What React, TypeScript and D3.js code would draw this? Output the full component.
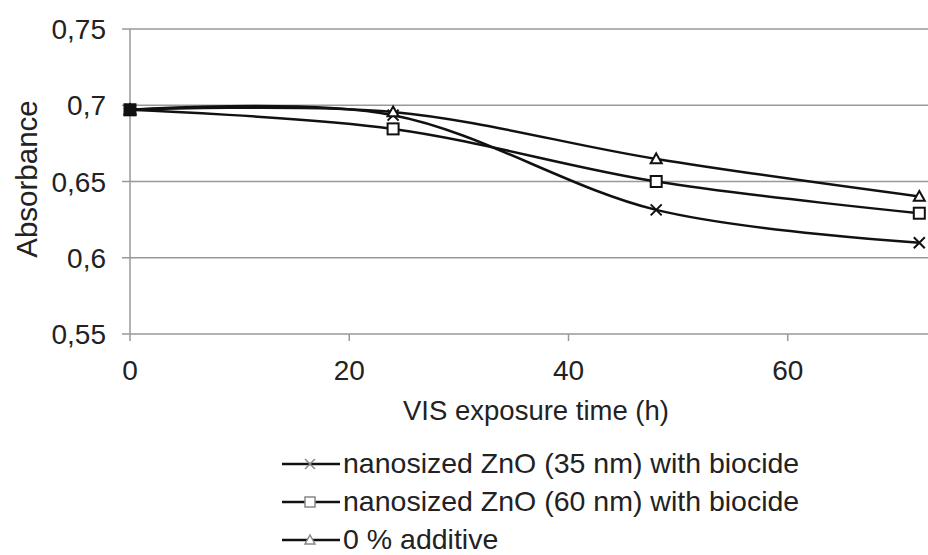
import { useRef, useEffect } from "react";
import * as d3 from "d3";

const hours = [0, 24, 48, 72];
const zno35 = [0.697, 0.6935, 0.6314, 0.6098];
const zno60 = [0.697, 0.6845, 0.65, 0.6292];
const noAdditive = [0.697, 0.6956, 0.6648, 0.6402];
const seriesNames = [
  "nanosized ZnO (35 nm) with biocide",
  "nanosized ZnO (60 nm) with biocide",
  "0 % additive",
];
const yTicks = [0.55, 0.6, 0.65, 0.7, 0.75];
const xTicks = [0, 20, 40, 60];

export default function App() {
  const ref = useRef<SVGSVGElement>(null);

  useEffect(() => {
    const svg = d3.select(ref.current);
    svg.selectAll("*").remove();

    const width = 928;
    const height = 555;
    const font = "'Liberation Sans', Arial, sans-serif";

    svg.attr("width", width).attr("height", height)
      .style("position", "absolute").style("left", 0).style("top", 0)
      .style("background", "#fff");

    const x = d3.scaleLinear().domain([0, 80]).range([130, 1007]);
    const y = d3.scaleLinear().domain([0.55, 0.75]).range([334, 29]);
    const fmt = (v: number) => String(+v.toFixed(2)).replace(".", ",");

    // gridlines
    svg.append("g")
      .selectAll("line")
      .data(yTicks)
      .enter()
      .append("line")
      .attr("x1", 122)
      .attr("x2", width)
      .attr("y1", d => y(d))
      .attr("y2", d => y(d))
      .attr("stroke", "#999")
      .attr("stroke-width", 1.5);

    // left axis line
    svg.append("line")
      .attr("x1", x(0)).attr("x2", x(0))
      .attr("y1", y(0.75)).attr("y2", y(0.55))
      .attr("stroke", "#999").attr("stroke-width", 1.5);

    svg.append("g")
      .selectAll("text")
      .data(yTicks)
      .enter()
      .append("text")
      .attr("x", 106)
      .attr("y", d => y(d) + 10)
      .attr("text-anchor", "end")
      .attr("font-family", font)
      .attr("font-size", 28)
      .attr("fill", "#222")
      .text(d => fmt(d));

    // x ticks
    const xg = svg.append("g");
    xg.selectAll("line")
      .data(xTicks)
      .enter()
      .append("line")
      .attr("x1", d => x(d)).attr("x2", d => x(d))
      .attr("y1", y(0.55)).attr("y2", y(0.55) + 7)
      .attr("stroke", "#999").attr("stroke-width", 1.5);
    xg.selectAll("text")
      .data(xTicks)
      .enter()
      .append("text")
      .attr("x", d => x(d))
      .attr("y", 380)
      .attr("text-anchor", "middle")
      .attr("font-family", font)
      .attr("font-size", 28)
      .attr("fill", "#222")
      .text(d => d);

    svg.append("text")
      .attr("x", 536)
      .attr("y", 420)
      .attr("text-anchor", "middle")
      .attr("font-family", font)
      .attr("font-size", 27.5)
      .attr("fill", "#222")
      .text("VIS exposure time (h)");

    svg.append("text")
      .attr("transform", "rotate(-90)")
      .attr("x", -179)
      .attr("y", 37)
      .attr("text-anchor", "middle")
      .attr("font-family", font)
      .attr("font-size", 29.5)
      .attr("fill", "#222")
      .text("Absorbance");

    const series = [zno35, zno60, noAdditive];
    const line = d3.line<number>()
      .x((_, i) => x(hours[i]))
      .y(d => y(d))
      .curve(d3.curveCatmullRom.alpha(0));

    series.forEach(values => {
      svg.append("path")
        .attr("d", line(values))
        .attr("fill", "none")
        .attr("stroke", "#111")
        .attr("stroke-width", 2.5);
    });

    function marker(g: any, kind: number, cx: number, cy: number, s: number, color: string, w: number) {
      if (kind === 0) {
        g.append("path")
          .attr("d", `M${cx - s},${cy - s}L${cx + s},${cy + s}M${cx - s},${cy + s}L${cx + s},${cy - s}`)
          .attr("stroke", color).attr("stroke-width", w).attr("fill", "none");
      } else if (kind === 1) {
        g.append("rect")
          .attr("x", cx - s).attr("y", cy - s)
          .attr("width", 2 * s).attr("height", 2 * s)
          .attr("fill", "#fff").attr("stroke", color).attr("stroke-width", w);
      } else {
        g.append("path")
          .attr("d", `M${cx},${cy - s}L${cx + s},${cy + s * 0.8}L${cx - s},${cy + s * 0.8}Z`)
          .attr("fill", "#fff").attr("stroke", color).attr("stroke-width", w);
      }
    }

    const mg = svg.append("g");
    series.forEach((values, k) => {
      values.forEach((v, i) => marker(mg, k, x(hours[i]), y(v), 5.5, "#111", 2));
    });
    // overlapping markers at t=0 appear solid
    mg.append("rect")
      .attr("x", x(0) - 6).attr("y", y(zno35[0]) - 6)
      .attr("width", 12).attr("height", 12)
      .attr("fill", "#111");

    // legend
    const lg = svg.append("g");
    seriesNames.forEach((name, k) => {
      const ly = 464 + k * 38;
      lg.append("line")
        .attr("x1", 282).attr("x2", 340)
        .attr("y1", ly).attr("y2", ly)
        .attr("stroke", "#111").attr("stroke-width", 2.5);
      marker(lg, k, 310, ly, 5, "#888", 1.5);
      lg.append("text")
        .attr("x", 343)
        .attr("y", ly + 9)
        .attr("font-family", font)
        .attr("font-size", 28.5)
        .attr("fill", "#222")
        .text(name);
    });
  }, []);

  return <svg ref={ref}></svg>;
}
